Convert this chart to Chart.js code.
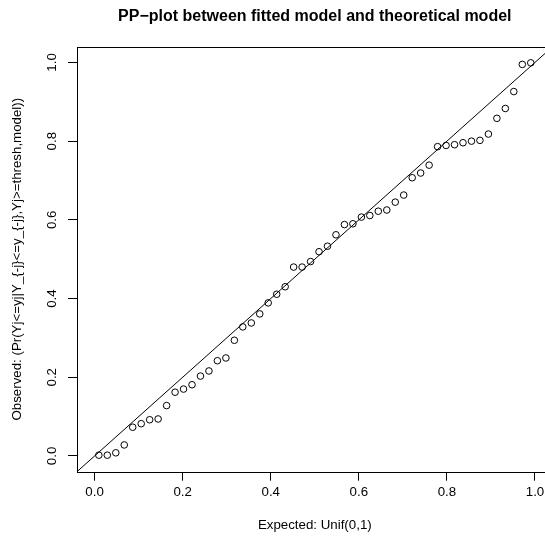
<!DOCTYPE html>
<html><head><meta charset="utf-8">
<script src="https://cdn.jsdelivr.net/npm/chart.js@4/dist/chart.umd.min.js"></script>
<style>html,body{margin:0;padding:0;overflow:hidden;background:#fff;width:545px;height:540px}canvas{display:block}</style>
</head><body>
<canvas id="c" width="580" height="540"></canvas>
<script>
const expected = [0.0096,0.0288,0.0481,0.0673,0.0865,0.1058,0.1250,0.1442,0.1635,0.1827,0.2019,0.2212,0.2404,0.2596,0.2788,0.2981,0.3173,0.3365,0.3558,0.3750,0.3942,0.4135,0.4327,0.4519,0.4712,0.4904,0.5096,0.5288,0.5481,0.5673,0.5865,0.6058,0.6250,0.6442,0.6635,0.6827,0.7019,0.7212,0.7404,0.7596,0.7788,0.7981,0.8173,0.8365,0.8558,0.8750,0.8942,0.9135,0.9327,0.9519,0.9712,0.9904];
const observed = [0.002,0.002,0.008,0.028,0.073,0.082,0.092,0.094,0.128,0.162,0.170,0.181,0.203,0.216,0.242,0.249,0.294,0.328,0.338,0.361,0.389,0.411,0.430,0.480,0.480,0.494,0.519,0.533,0.562,0.588,0.590,0.607,0.611,0.622,0.625,0.645,0.663,0.707,0.719,0.739,0.786,0.789,0.791,0.796,0.800,0.802,0.818,0.858,0.883,0.926,0.995,0.999];
const xTicks = [0, 0.2, 0.4, 0.6, 0.8, 1.0];
const yTicks = [0, 0.2, 0.4, 0.6, 0.8, 1.0];
const xTickLabels = ['0.0','0.2','0.4','0.6','0.8','1.0'];
const yTickLabels = ['0.0','0.2','0.4','0.6','0.8','1.0'];
const axisMin = -0.04, axisMax = 1.04;
const diagLine = [axisMin, axisMax];
const titleText = 'PP\u2212plot between fitted model and theoretical model';
const xTitle = 'Expected: Unif(0,1)';
const yTitle = 'Observed: (Pr(Yj<=yj|Y_{-j}<=y_{-j},Yj>=thresh,model))';

const FONT = '"Liberation Sans", Arial, Helvetica, sans-serif';

const decor = {
  id: 'decor',
  afterDraw(chart) {
    const ctx = chart.ctx, ca = chart.chartArea;
    const xs = chart.scales.x, ys = chart.scales.y;
    ctx.save();
    // box
    ctx.strokeStyle = '#000'; ctx.lineWidth = 1;
    ctx.strokeRect(Math.round(ca.left) + 0.5, Math.round(ca.top) + 0.5, Math.round(ca.right - ca.left), Math.round(ca.bottom - ca.top));
    ctx.fillStyle = '#000';
    ctx.font = '13.3px ' + FONT;
    ctx.textAlign = 'center'; ctx.textBaseline = 'alphabetic';
    xs.ticks.forEach((t, i) => {
      ctx.fillText(xTickLabels[i], xs.getPixelForValue(t.value), ca.bottom + 24);
    });
    ys.ticks.forEach((t, i) => {
      ctx.save();
      ctx.translate(ca.left - 21.4, ys.getPixelForValue(t.value));
      ctx.rotate(-Math.PI / 2);
      ctx.fillText(yTickLabels[i], 0, 0);
      ctx.restore();
    });
    const cx = (ca.left + ca.right) / 2, cy = (ca.top + ca.bottom) / 2;
    ctx.fillText(xTitle, cx, ca.bottom + 57.3);
    ctx.save();
    ctx.translate(ca.left - 56, cy);
    ctx.rotate(-Math.PI / 2);
    ctx.fillText(yTitle, 0, 0);
    ctx.restore();
    ctx.font = 'bold 16px ' + FONT;
    ctx.fillText(titleText, cx, 21);
    ctx.restore();
  }
};

const axisCommon = {
  type: 'linear', min: axisMin, max: axisMax,
  ticks: { display: false },
  grid: { drawOnChartArea: false, drawTicks: true, tickLength: 9, color: '#000', lineWidth: 1 },
  border: { display: false }
};

new Chart(document.getElementById('c'), {
  type: 'scatter',
  data: {
    datasets: [
      {
        data: expected.map((x, i) => ({ x: x, y: observed[i] })),
        pointStyle: 'circle', pointRadius: 3.3, pointBorderWidth: 1,
        pointBorderColor: '#000', pointBackgroundColor: 'rgba(0,0,0,0)', showLine: false
      },
      {
        type: 'line',
        data: diagLine.map(v => ({ x: v, y: v })),
        borderColor: '#000', borderWidth: 1, pointRadius: 0, fill: false, tension: 0
      }
    ]
  },
  options: {
    responsive: false, animation: false, devicePixelRatio: 1,
    layout: { padding: { top: 46.7, right: 27.4, left: 0, bottom: 0 } },
    plugins: { legend: { display: false }, tooltip: { enabled: false }, title: { display: false } },
    scales: {
      x: Object.assign({}, axisCommon, {
        position: 'bottom',
        afterBuildTicks: s => { s.ticks = xTicks.map(v => ({ value: v })); },
        afterFit: s => { s.height = 68.3; }
      }),
      y: Object.assign({}, axisCommon, {
        position: 'left',
        afterBuildTicks: s => { s.ticks = yTicks.map(v => ({ value: v })); },
        afterFit: s => { s.width = 77; }
      })
    }
  },
  plugins: [decor]
});
</script>
</body></html>
